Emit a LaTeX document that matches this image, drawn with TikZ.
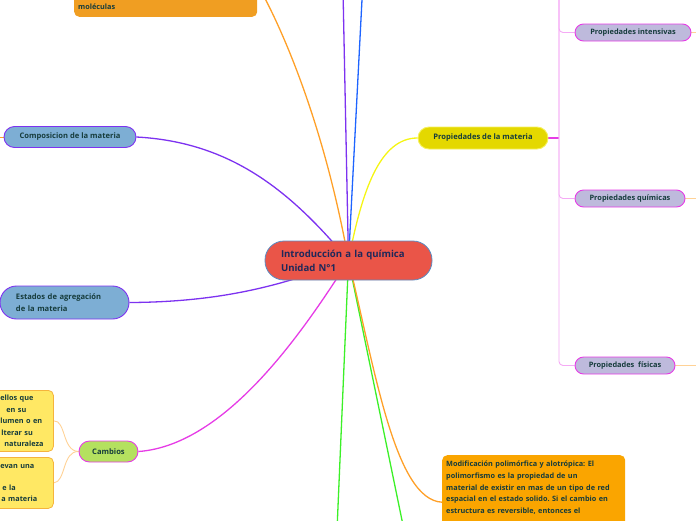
\documentclass[tikz,border=0pt]{standalone}
\usepackage{fontspec}
\setmainfont{Open Sans}
\usetikzlibrary{backgrounds}
\frenchspacing
\definecolor{mapRed}{RGB}{234,85,72}
\definecolor{mapSteel}{RGB}{90,140,195}
\definecolor{mapNavy}{RGB}{30,40,90}
\definecolor{mapInk}{RGB}{22,60,60}
\definecolor{mapOlive}{RGB}{228,216,0}
\definecolor{mapLemon}{RGB}{245,240,90}
\definecolor{mapLilac}{RGB}{190,186,220}
\definecolor{mapMagenta}{RGB}{230,60,230}
\definecolor{mapPink}{RGB}{245,170,245}
\definecolor{mapBlue}{RGB}{125,174,212}
\definecolor{mapViolet}{RGB}{125,50,240}
\definecolor{mapLime}{RGB}{180,225,95}
\definecolor{mapButter}{RGB}{255,232,100}
\definecolor{mapAmber}{RGB}{245,180,60}
\definecolor{mapOrange}{RGB}{240,158,34}
\definecolor{mapTangerine}{RGB}{250,165,0}
\definecolor{lineOrange}{RGB}{255,160,40}
\definecolor{lineYellow}{RGB}{245,245,20}
\definecolor{lineGreen}{RGB}{60,240,40}
\definecolor{lineBlue}{RGB}{30,100,255}
\definecolor{linePeach}{RGB}{255,210,150}

\begin{document}
\begin{tikzpicture}[x=1pt,y=-1pt,
  topic/.style={draw=#1,line width=0.9pt,inner sep=0pt,text=mapInk,align=center,
    font=\fontsize{7.6}{9}\selectfont\bfseries},
  leaf/.style={fill=mapLilac,draw=mapMagenta,line width=0.9pt,rounded corners=8.5pt,
    minimum height=17pt,inner sep=0pt,text=mapInk,font=\fontsize{7.4}{9}\selectfont\bfseries},
  note/.style={fill=#1,rounded corners=5pt,inner sep=0pt,align=left,text=mapInk,
    font=\fontsize{7.3}{11.5}\selectfont\bfseries},
  branch/.style={draw=#1,line width=1.3pt},
  twig/.style={draw=#1,line width=0.9pt}]
\useasboundingbox (0,0) rectangle (696,520);

\node[fill=mapRed,draw=mapSteel,line width=0.8pt,rounded corners=19pt,minimum height=39pt,
  text width=135pt,inner xsep=16pt,inner ysep=0pt,align=left,text=mapNavy,
  font=\fontsize{9.6}{14}\selectfont\bfseries] (intro) at (348.5,260.5)
  {Introducción a la química\\Unidad N°1};

\node[topic=mapLemon,fill=mapOlive,minimum width=130pt,minimum height=22pt,rounded corners=11pt]
  (prop) at (483,138) {Propiedades de la materia};
\node[leaf,minimum width=116pt] (intens) at (633,32.5) {Propiedades intensivas};
\node[leaf,minimum width=110pt] (quim) at (630,198.5) {Propiedades químicas};
\node[leaf,minimum width=100pt] (fis) at (625,365.5) {Propiedades \ físicas};

\node[topic=mapViolet,fill=mapBlue,minimum width=132pt,minimum height=21pt,rounded corners=10.5pt]
  (comp) at (70,137) {Composicion de la materia};
\node[topic=mapViolet,fill=mapBlue,minimum height=33pt,rounded corners=16.5pt,
  text width=97pt,inner xsep=16pt,align=left,font=\fontsize{7.6}{11.5}\selectfont\bfseries]
  (estados) at (64.5,302.5) {Estados de agregación\\de la materia};
\node[topic=mapMagenta,fill=mapLime,minimum width=59pt,minimum height=21pt,rounded corners=10.5pt]
  (cambios) at (108.5,451.5) {Cambios};

\node[note=mapButter,draw=mapAmber,line width=0.8pt,anchor=north west,text width=63pt,
  minimum height=61pt,inner ysep=4pt] (fisicos) at (-10,390)
  {\hspace*{10pt}ellos que\\\hspace*{16pt}en su\\\hspace*{10pt}lumen o en\\
   \hspace*{11pt}lterar su\\\hspace*{14pt}naturaleza};
\node[note=mapButter,draw=mapAmber,line width=0.8pt,anchor=north west,text width=63pt,
  minimum height=51pt,inner ysep=4pt] (quimicos) at (-10,457)
  {\hspace*{10pt}evan una\\[-0.5pt]\mbox{}\\[-0.5pt]\hspace*{12pt}e la\\[-0.5pt]\hspace*{11pt}a materia};

\node[note=mapOrange,anchor=south west,text width=175pt,inner xsep=4pt,inner ysep=7pt]
  (moleculas) at (74,17) {\rule{0pt}{50pt}moléculas};
\node[note=mapTangerine,anchor=north west,text width=175pt,inner xsep=4pt,inner ysep=6pt,
  font=\fontsize{7.3}{11.6}\selectfont\bfseries] (polimorf) at (442,455)
  {Modificación polimórfica y alotrópica: El\\polimorfismo es la propiedad de un\\
   material de existir en mas de un tipo de red\\espacial en el estado solido. Si el cambio en\\
   estructura es reversible, entonces el\rule[-30pt]{0pt}{0pt}};

\coordinate (spine) at (559,-10);
\coordinate (upA) at (343,-10);
\coordinate (upB) at (362.5,-10);
\coordinate (downA) at (337,530);
\coordinate (downB) at (404,530);
\coordinate (compout) at (-10,137);
\coordinate (intensout) at (706,32.5);
\coordinate (quimout) at (706,198.5);
\coordinate (fisout) at (706,365.5);

\begin{scope}[on background layer]
\draw[branch=lineOrange] (moleculas.east) .. controls (262,-8) and (318,90) .. (intro.center);
\draw[branch=mapViolet] (intro.center) -- (upA);
\draw[branch=lineBlue] (intro.center) -- (upB);
\draw[branch=lineYellow] (intro.center) .. controls (362,190) and (380,138) .. (prop.west);
\draw[branch=mapViolet] (comp.east) .. controls (230,142) and (290,190) .. (intro.center);
\draw[branch=mapViolet] (estados.east) .. controls (230,302) and (290,282) .. (intro.center);
\draw[branch=mapMagenta] (cambios.east) .. controls (230,445) and (310,320) .. (intro.center);
\draw[branch=lineGreen] (intro.center) -- (downA);
\draw[branch=lineGreen] (intro.center) -- (downB);
\draw[branch=lineOrange] (intro.center) .. controls (375,370) and (395,500) .. (polimorf.west);
\draw[branch=mapMagenta] (prop.east) -- (prop.east -| spine);
\draw[twig=mapPink,rounded corners=4pt] (spine) |- (intens.west);
\draw[twig=mapPink,rounded corners=4pt] (spine) |- (quim.west);
\draw[twig=mapPink,rounded corners=4pt] (spine) |- (fis.west);
\draw[twig=linePeach] (intens.east) -- (intensout);
\draw[twig=linePeach] (quim.east) -- (quimout);
\draw[twig=linePeach] (fis.east) -- (fisout);
\draw[twig=lineOrange] (comp.west) -- (compout);
\draw[twig=linePeach] (cambios.west) .. controls (62,451) and (66,420) .. (fisicos.east);
\draw[twig=linePeach] (cambios.west) .. controls (62,451) and (66,482) .. (quimicos.east);
\end{scope}
\end{tikzpicture}
\end{document}
